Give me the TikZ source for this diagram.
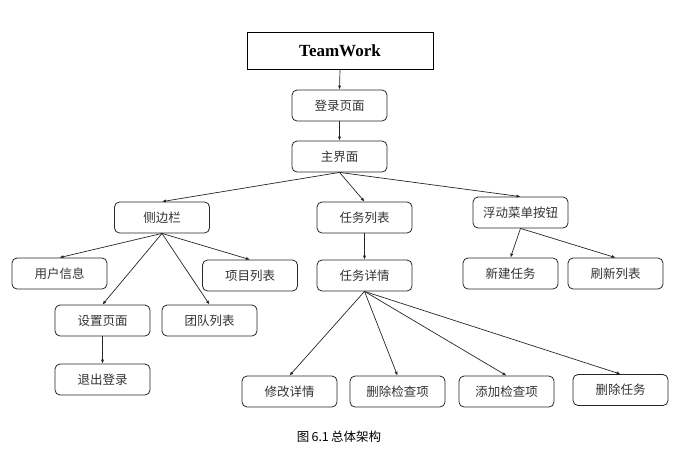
\documentclass[tikz,border=0pt]{standalone}
\usepackage{fontspec}
\setmainfont{Liberation Serif}
\newfontfamily\cjk{Noto Sans CJK SC}
\usetikzlibrary{arrows.meta}
\begin{document}
\begin{tikzpicture}[x=1pt,y=-1pt,
  box/.style={draw=black!85, line width=0.8pt, rounded corners=5pt, minimum width=95pt, minimum height=31pt, inner sep=0pt, font=\cjk\fontsize{12.5}{14}\selectfont, text=black!80},
  titlebox/.style={draw=black, line width=0.9pt, minimum width=186pt, minimum height=37pt, inner sep=0pt, font=\bfseries\fontsize{17}{20}\selectfont},
  arr/.style={line width=0.7pt, draw=black!85, -{Latex[length=4pt,width=3.2pt]}}]
\useasboundingbox (0,0) rectangle (684,459);
\node[titlebox] (tw) at (340,50.5) {TeamWork};
\node[box] (login) at (339.5,105.5) {登录页面};
\node[box] (main) at (339.5,156.5) {主界面};
\node[box] (side) at (162,217.5) {侧边栏};
\node[box] (tasklist) at (364.5,217.5) {任务列表};
\node[box] (float) at (520.5,212.5) {浮动菜单按钮};
\node[box] (user) at (59.5,273.5) {用户信息};
\node[box] (proj) at (250,275.5) {项目列表};
\node[box] (settings) at (102.5,320.5) {设置页面};
\node[box] (team) at (209.5,320.5) {团队列表};
\node[box] (logout) at (102.5,379.5) {退出登录};
\node[box] (detail) at (364.5,275.5) {任务详情};
\node[box] (newtask) at (510.5,273.5) {新建任务};
\node[box] (refresh) at (615.5,273.5) {刷新列表};
\node[box] (edit) at (289.5,391.5) {修改详情};
\node[box] (delcheck) at (397.5,391.5) {删除检查项};
\node[box] (addcheck) at (506.5,391.5) {添加检查项};
\node[box] (deltask) at (620.5,390) {删除任务};
\node[font=\cjk\fontsize{12.5}{14}\selectfont] (cap) at (339,437) {图\,6.1\,总体架构};
\draw[arr] (tw.south) -- (login.north);
\draw[arr] (login.south) -- (main.north);
\draw[arr] (main.south) -- (side.north);
\draw[arr] (main.south) -- (tasklist.north);
\draw[arr] (main.south) -- (float.north);
\draw[arr] (side.south) -- (user.north);
\draw[arr] (side.south) -- (proj.north);
\draw[arr] (side.south) -- (settings.north);
\draw[arr] (side.south) -- (team.north);
\draw[arr] (settings.south) -- (logout.north);
\draw[arr] (tasklist.south) -- (detail.north);
\draw[arr] (float.south) -- (newtask.north);
\draw[arr] (float.south) -- (refresh.north);
\draw[arr] (detail.south) -- (edit.north);
\draw[arr] (detail.south) -- (delcheck.north);
\draw[arr] (detail.south) -- (addcheck.north);
\draw[arr] (detail.south) -- (deltask.north);
\end{tikzpicture}
\end{document}
